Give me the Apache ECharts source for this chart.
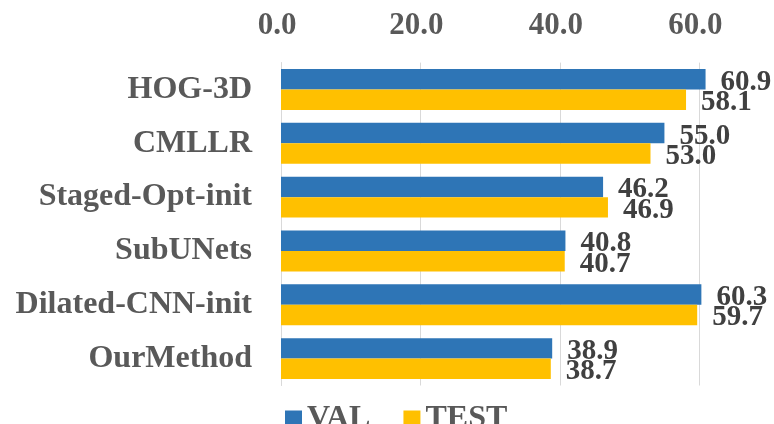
<!DOCTYPE html>
<html>
<head>
<meta charset="utf-8">
<script src="https://cdn.jsdelivr.net/npm/echarts@6/dist/echarts.min.js"></script>
<style>
  html, body { margin: 0; padding: 0; background: #ffffff; }
  #chart { width: 774px; height: 424px; }
</style>
</head>
<body>
<div id="chart"></div>
<script>
// Methods, top to bottom
const methods = ['HOG-3D', 'CMLLR', 'Staged-Opt-init', 'SubUNets', 'Dilated-CNN-init', 'OurMethod'];
// Scores per split
const valScores = [60.9, 55.0, 46.2, 40.8, 60.3, 38.9];
const testScores = [58.1, 53.0, 46.9, 40.7, 59.7, 38.7];
const seriesNames = ['VAL', 'TEST'];

const FONT = '"Liberation Serif", "Times New Roman", serif';
const BLUE = '#2E75B6';
const GOLD = '#FFC000';

function valueLabel() {
  return {
    show: true,
    position: 'right',
    distance: 15,
    offset: [0, 3],
    fontFamily: FONT,
    fontWeight: 'bold',
    fontSize: 29,
    color: '#404040',
    formatter: p => p.value.toFixed(1)
  };
}

const chart = echarts.init(document.getElementById('chart'), null, { renderer: 'canvas' });
chart.setOption({
  animation: false,
  backgroundColor: '#ffffff',
  grid: { left: 281, right: 5, top: 62.6, bottom: 38.5, containLabel: false },
  legend: {
    data: seriesNames,
    left: 280,
    top: 398,
    itemWidth: 17,
    itemHeight: 17,
    itemGap: 33,
    icon: 'rect',
    textStyle: { fontFamily: FONT, fontWeight: 'bold', fontSize: 32, color: '#595959' }
  },
  xAxis: {
    type: 'value',
    position: 'top',
    min: 0,
    max: 70,
    interval: 20,
    axisLine: { show: false },
    axisTick: { show: false },
    splitLine: { show: true, showMaxLine: false, lineStyle: { color: '#d9d9d9', width: 1 } },
    axisLabel: {
      showMaxLabel: false,
      margin: 21,
      padding: [0, 8, 0, 0],
      fontFamily: FONT,
      fontWeight: 'bold',
      fontSize: 31,
      color: '#595959',
      formatter: v => v.toFixed(1)
    }
  },
  yAxis: {
    type: 'category',
    data: methods,
    inverse: true,
    axisLine: { show: true, lineStyle: { color: '#d9d9d9', width: 1 } },
    axisTick: { show: false },
    axisLabel: {
      margin: 29,
      fontFamily: FONT,
      fontWeight: 'bold',
      fontSize: 32,
      color: '#595959'
    }
  },
  series: [
    {
      name: seriesNames[0],
      type: 'bar',
      data: valScores,
      barGap: '0%',
      barCategoryGap: '24%',
      itemStyle: { color: BLUE },
      label: valueLabel()
    },
    {
      name: seriesNames[1],
      type: 'bar',
      data: testScores,
      barGap: '0%',
      barCategoryGap: '24%',
      itemStyle: { color: GOLD },
      label: valueLabel()
    }
  ]
});
</script>
</body>
</html>
